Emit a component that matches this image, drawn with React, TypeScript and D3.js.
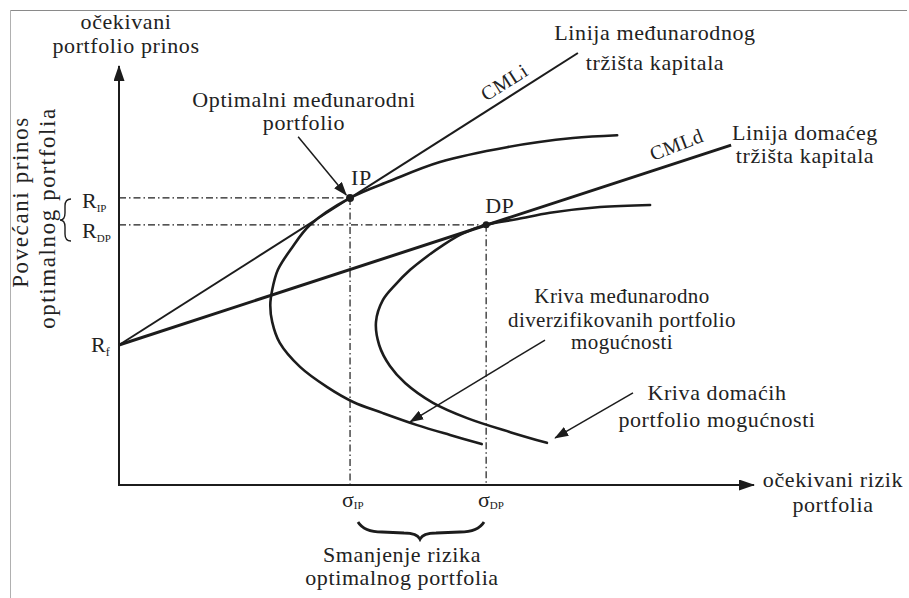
import React from "react";
import * as d3 from "d3";

// Risk (x) and expected return (y) in abstract percentage units
const riskFree = 33.9;

const intlFrontier: [number, number][] = [
  [78.7, 84.7], [71.7, 84.0], [61.3, 81.8], [50.7, 78.2], [42.8, 73.6],
  [36.5, 69.5], [30.2, 63.0], [27.3, 57.4], [25.1, 52.1], [24.2, 47.2],
  [23.9, 43.6], [24.2, 39.5], [25.4, 34.4], [28.6, 28.6], [32.9, 23.7],
  [37.0, 20.1], [41.7, 17.4], [47.1, 14.5], [52.3, 12.1], [57.3, 9.9],
];

const domFrontier: [number, number][] = [
  [83.9, 67.8], [76.0, 67.3], [68.1, 65.9], [63.0, 64.4], [58.0, 63.0],
  [54.2, 60.8], [51.2, 58.1], [48.7, 55.4], [46.0, 52.1], [43.6, 48.4],
  [41.7, 44.8], [40.6, 39.5], [41.1, 33.9], [42.8, 28.8], [45.2, 24.7],
  [49.6, 19.9], [55.0, 16.2], [61.8, 12.8], [67.6, 10.2],
];

const optimalIntl: [number, number] = [36.5, 69.5];
const optimalDom: [number, number] = [58.0, 63.0];

const cmlIntl: [number, number][] = [[0, riskFree], [72.5, 104.6]];
const cmlDom: [number, number][] = [[0, riskFree], [96.7, 82.3]];

// Annotation pointers: [from, to]
const pointers: [number, number][][] = [
  [[28.3, 84.3], [35.9, 70.2]],
  [[67.3, 35.1], [46.0, 15.3]],
  [[81.2, 22.3], [68.9, 11.4]],
];

const yAxisTitle = ["očekivani", "portfolio prinos"];
const xAxisTitle = ["očekivani rizik", "portfolia"];
const sideTitle = ["Povećani prinos", "optimalnog portfolia"];
const bottomTitle = ["Smanjenje rizika", "optimalnog portfolia"];
const cmlIntlLabel = ["Linija međunarodnog", "tržišta kapitala"];
const cmlDomLabel = ["Linija domaćeg", "tržišta kapitala"];
const optimalLabel = ["Optimalni međunarodni", "portfolio"];
const intlCurveLabel = ["Kriva međunarodno", "diverzifikovanih portfolio", "mogućnosti"];
const domCurveLabel = ["Kriva domaćih", "portfolio mogućnosti"];

const W = 909;
const H = 598;
const FONT = "'Liberation Serif', 'Times New Roman', serif";
const INK = "#1c1c1c";

export default function App() {
  const x = d3.scaleLinear().domain([0, 100]).range([119, 752]);
  const y = d3.scaleLinear().domain([0, 100]).range([485, 72]);

  const curve = d3
    .line<[number, number]>()
    .x((d) => x(d[0]))
    .y((d) => y(d[1]))
    .curve(d3.curveCatmullRom.alpha(0.5));
  const straight = d3
    .line<[number, number]>()
    .x((d) => x(d[0]))
    .y((d) => y(d[1]));

  const x0 = x(0);
  const y0 = y(0);
  const dash = "7,3,1.5,3";

  const lines = (arr: string[], cx: number, by: number[] | number, gap = 0) =>
    arr.map((t, i) => (
      <text key={t + i} x={cx} y={Array.isArray(by) ? by[i] : by + i * gap} textAnchor="middle">
        {t}
      </text>
    ));

  const angI = (Math.atan2(y(cmlIntl[1][1]) - y(cmlIntl[0][1]), x(cmlIntl[1][0]) - x(cmlIntl[0][0])) * 180) / Math.PI;
  const angD = (Math.atan2(y(cmlDom[1][1]) - y(cmlDom[0][1]), x(cmlDom[1][0]) - x(cmlDom[0][0])) * 180) / Math.PI;

  return (
    <svg
      width={W}
      height={H}
      style={{ position: "absolute", left: 0, top: 0, background: "#fff" }}
      fontFamily={FONT}
    >
      <defs>
        <marker id="ptr" viewBox="0 0 14 10" refX="13" refY="5" markerWidth="14" markerHeight="10" markerUnits="userSpaceOnUse" orient="auto">
          <path d="M0,0 L14,5 L0,10 Z" fill={INK} />
        </marker>
        <marker id="ax" viewBox="0 0 16 11" refX="15" refY="5.5" markerWidth="16" markerHeight="11" markerUnits="userSpaceOnUse" orient="auto">
          <path d="M0,0 L16,5.5 L0,11 Z" fill={INK} />
        </marker>
      </defs>

      {/* page frame */}
      <line x1={10} y1={10.5} x2={907} y2={10.5} stroke="#8a8a8a" strokeWidth={1} />
      <line x1={10.5} y1={10} x2={10.5} y2={598} stroke="#b0b0b0" strokeWidth={1} />

      {/* axes */}
      <line x1={x0} y1={y0 + 1} x2={x0} y2={66} stroke={INK} strokeWidth={2} markerEnd="url(#ax)" />
      <line x1={x0 - 1} y1={y0} x2={754} y2={y0} stroke={INK} strokeWidth={2} markerEnd="url(#ax)" />

      {/* reference guides to the optimal portfolios */}
      <g stroke={INK} strokeWidth={1.2} strokeDasharray={dash} fill="none">
        <line x1={x0} y1={y(optimalIntl[1])} x2={x(optimalIntl[0])} y2={y(optimalIntl[1])} />
        <line x1={x0} y1={y(optimalDom[1])} x2={x(optimalDom[0])} y2={y(optimalDom[1])} />
        <line x1={x(optimalIntl[0])} y1={y(optimalIntl[1])} x2={x(optimalIntl[0])} y2={y0} />
        <line x1={x(optimalDom[0])} y1={y(optimalDom[1])} x2={x(optimalDom[0])} y2={y0} />
      </g>

      {/* capital market lines */}
      <path d={straight(cmlIntl) || ""} stroke={INK} strokeWidth={2} fill="none" />
      <path d={straight(cmlDom) || ""} stroke={INK} strokeWidth={3} fill="none" />

      {/* opportunity frontiers */}
      <path d={curve(intlFrontier) || ""} stroke={INK} strokeWidth={2.6} fill="none" strokeLinecap="round" />
      <path d={curve(domFrontier) || ""} stroke={INK} strokeWidth={2.6} fill="none" strokeLinecap="round" />

      {/* optimal portfolios */}
      <circle cx={x(optimalIntl[0])} cy={y(optimalIntl[1])} r={4} fill={INK} />
      <circle cx={x(optimalDom[0])} cy={y(optimalDom[1])} r={3.5} fill={INK} />

      {/* pointers */}
      {pointers.map((p, i) => (
        <line
          key={i}
          x1={x(p[0][0])}
          y1={y(p[0][1])}
          x2={x(p[1][0])}
          y2={y(p[1][1])}
          stroke={INK}
          strokeWidth={1.5}
          markerEnd="url(#ptr)"
        />
      ))}

      {/* braces */}
      <path
        d="M71,199 Q65,199 65,206 L65,213 Q65,220 60,220 Q65,220 65,227 L65,234 Q65,241 71,241"
        stroke={INK}
        strokeWidth={1.4}
        fill="none"
      />
      <path
        d="M358,522 Q364,532 382,532 L404,533 Q417,533 420,539 Q423,533 436,533 L460,532 Q478,532 484,522"
        stroke={INK}
        strokeWidth={2.8}
        fill="none"
      />

      <g fill="#222" fontSize={22} letterSpacing={0.6}>
        {lines(yAxisTitle, 126, 29, 24)}
        {lines(xAxisTitle, 833, 487, 25)}
        {lines(bottomTitle, 402, 562, 23)}
        {lines(cmlIntlLabel, 655, 40, 30)}
        {lines(cmlDomLabel, 805, 140, 23)}
        {lines(optimalLabel, 304, 107, 23)}
        <g fontSize={21} letterSpacing={0.4}>
          {lines(intlCurveLabel, 622, [303, 327, 349])}
        </g>
        {lines(domCurveLabel, 717, 400, 27)}

        <g transform="rotate(-90)" letterSpacing={1.6} fontSize={23}>
          <text x={-202} y={28} textAnchor="middle">{sideTitle[0]}</text>
          <text x={-218} y={55} textAnchor="middle">{sideTitle[1]}</text>
        </g>

        <text x={x(optimalIntl[0]) + 1} y={185}>IP</text>
        <text x={x(optimalDom[0]) - 1} y={213}>DP</text>

        <text transform={`translate(508,88) rotate(${angI})`} textAnchor="middle" fontSize={20}>CMLi</text>
        <text transform={`translate(679,151) rotate(${angD - 3})`} textAnchor="middle" fontSize={20}>CMLd</text>

        <text x={82} y={208} letterSpacing={0}>
          R<tspan fontSize={11} dy={4}>IP</tspan>
        </text>
        <text x={82} y={238} letterSpacing={0}>
          R<tspan fontSize={11} dy={4}>DP</tspan>
        </text>
        <text x={91} y={352} letterSpacing={0}>
          R<tspan fontSize={12} dy={4}>f</tspan>
        </text>

        <text x={342} y={507} letterSpacing={0}>
          σ<tspan fontSize={11} dy={2}>IP</tspan>
        </text>
        <text x={478} y={507} letterSpacing={0}>
          σ<tspan fontSize={11} dy={2}>DP</tspan>
        </text>
      </g>
    </svg>
  );
}
